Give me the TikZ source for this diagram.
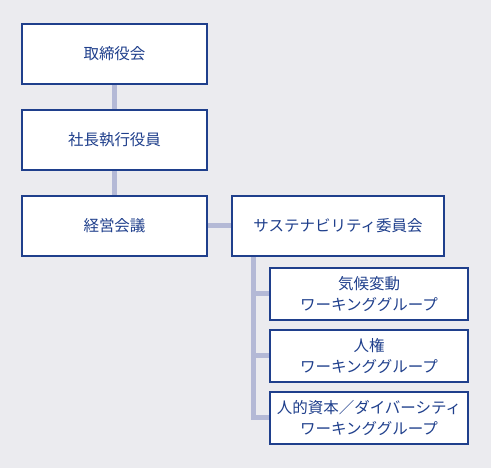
\documentclass[tikz,border=0pt]{standalone}
\usepackage{fontspec}
\setmainfont{Noto Sans CJK JP}
\usepackage{tikz}
\usepackage{xcolor}

\definecolor{navy}{HTML}{1F3F8C}
\definecolor{linkgray}{HTML}{B4B9D6}
\definecolor{bggray}{HTML}{EBEBEF}

\tikzset{
  orgbox/.style={draw=navy, line width=1.6pt, fill=white, text=navy,
    minimum width=185pt, minimum height=60pt, inner sep=0pt,
    font=\fontsize{15.5}{20.5}\selectfont, align=center},
  wgbox/.style={orgbox, minimum width=198pt, minimum height=52pt},
  link/.style={draw=linkgray, line width=5pt}
}

\begin{document}
\begin{tikzpicture}[x=1pt, y=-1pt]
        % Background
        \fill[bggray] (0,0) rectangle (491,468);
        \useasboundingbox (0,0) rectangle (491,468);

        % Main line
        \node[orgbox] (board) at (114.5,54) {取締役会};
        \node[orgbox] (exec) at (114.5,140) {社長執行役員};
        \node[orgbox] (mgmt) at (114.5,226) {経営会議};

        % Committee
        \node[orgbox, minimum width=212pt] (sus) at (338,226) {サステナビリティ委員会};

        % Working groups
        \node[wgbox] (wgclimate) at (369,294) {気候変動\\ワーキンググループ};
        \node[wgbox] (wgrights) at (369,356) {人権\\ワーキンググループ};
        \node[wgbox] (wghuman) at (369,418) {人的資本／ダイバーシティ\\ワーキンググループ};

        % Spine under the committee
        \coordinate (spine) at (253,0);

        % Connectors
        \draw[link] (board.south) -- (exec.north);
        \draw[link] (exec.south) -- (mgmt.north);
        \draw[link] (mgmt.east) -- (sus.west);
        \draw[link] (spine |- sus.south) -- (spine |- wghuman.west) -- (wghuman.west);
        \draw[link] (spine |- wgclimate.west) -- (wgclimate.west);
        \draw[link] (spine |- wgrights.west) -- (wgrights.west);

    \end{tikzpicture}
\end{document}
